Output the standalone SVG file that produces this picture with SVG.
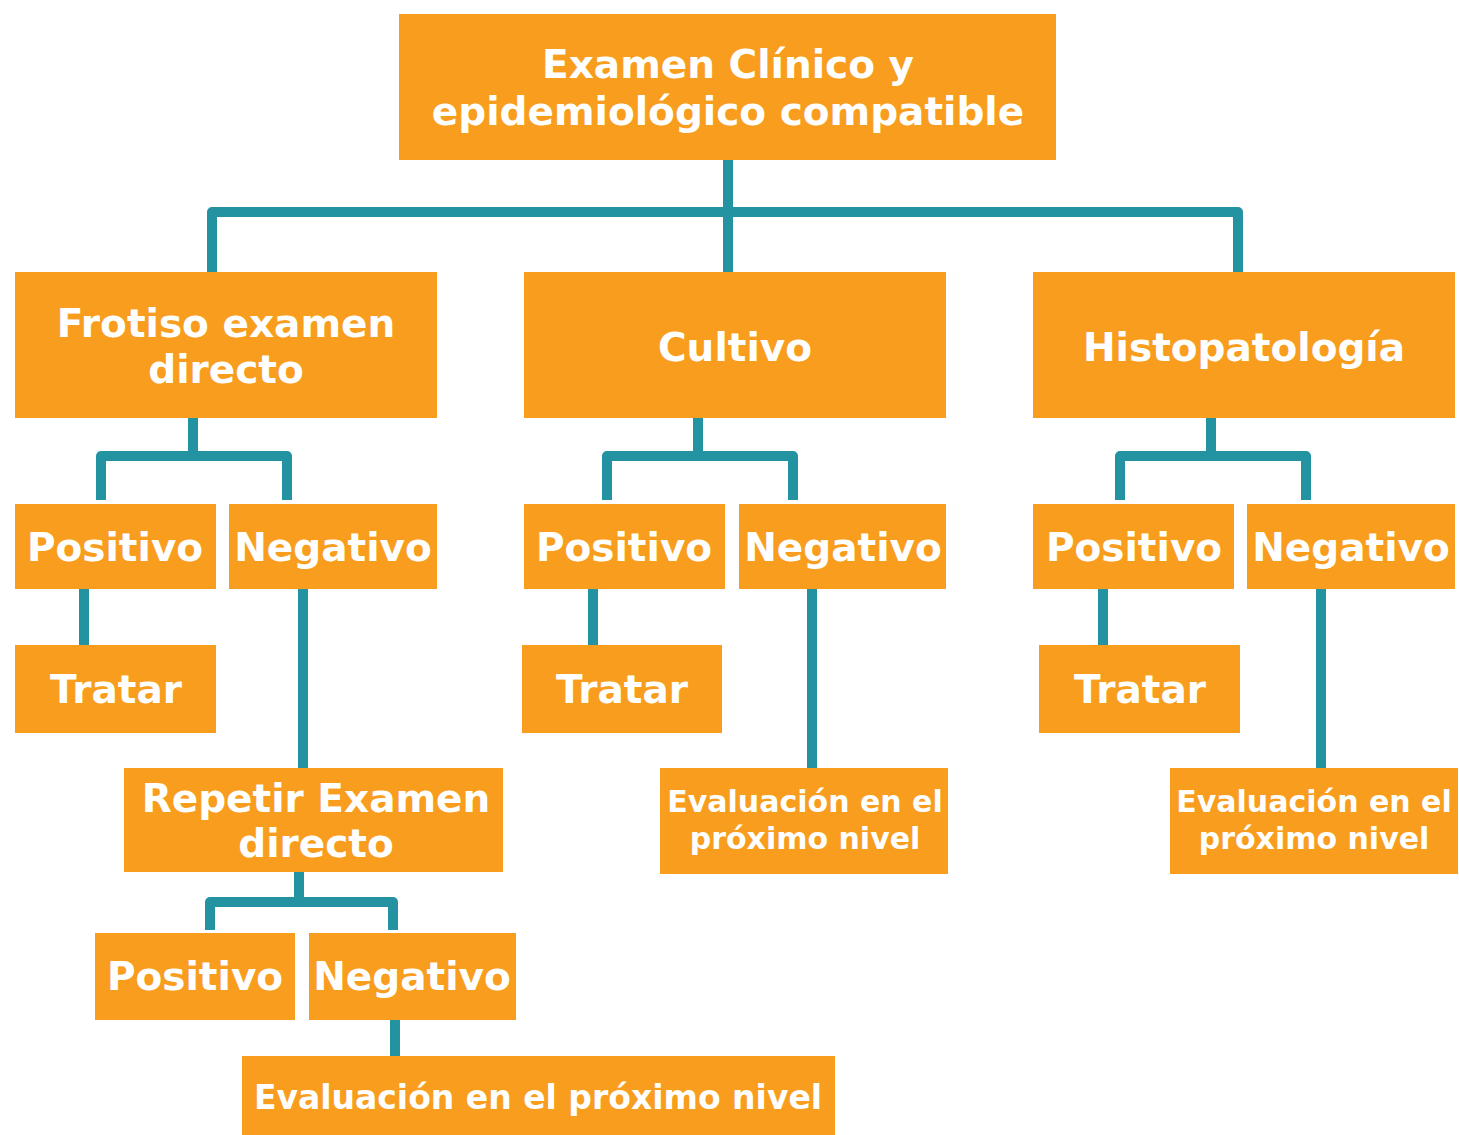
<svg xmlns="http://www.w3.org/2000/svg" width="1459" height="1135" viewBox="0 0 1459 1135">
<style>
.box{fill:#F99D1E}
.t{fill:#FFFFFF;font-family:"DejaVu Sans","Verdana",sans-serif;font-weight:bold;text-anchor:middle}
.l{font-size:39px}
.s{font-size:30px}
.m{font-size:33px}
.c{fill:none;stroke:#2393A2;stroke-width:10;stroke-linejoin:round;stroke-linecap:butt}
</style>
<rect width="1459" height="1135" fill="#FFFFFF"/>
<g id="connectors">
<path class="c" d="M728 160V272"/>
<path class="c" d="M212 272V212H1238V272"/>
<path class="c" d="M193 418V456"/>
<path class="c" d="M101 500V456H287V500"/>
<path class="c" d="M84 589V645"/>
<path class="c" d="M303 589V768"/>
<path class="c" d="M698 418V456"/>
<path class="c" d="M607 500V456H793V500"/>
<path class="c" d="M593 589V645"/>
<path class="c" d="M812 589V768"/>
<path class="c" d="M1211 418V456"/>
<path class="c" d="M1120 500V456H1306V500"/>
<path class="c" d="M1103 589V645"/>
<path class="c" d="M1321 589V768"/>
<path class="c" d="M299 872V902"/>
<path class="c" d="M210 930V902H393V930"/>
<path class="c" d="M395 1020V1056"/>
</g>
<g id="n-root"><rect class="box" x="399" y="14" width="657" height="146"/><text class="t l" x="728" y="78">Examen Clínico y</text><text class="t l" x="728" y="125">epidemiológico compatible</text></g>
<g id="n-frotiso"><rect class="box" x="15" y="272" width="422" height="146"/><text class="t l" x="226" y="337">Frotiso examen</text><text class="t l" x="226" y="383">directo</text></g>
<g id="n-cultivo"><rect class="box" x="524" y="272" width="422" height="146"/><text class="t l" x="735" y="361">Cultivo</text></g>
<g id="n-histo"><rect class="box" x="1033" y="272" width="422" height="146"/><text class="t l" x="1244" y="361">Histopatología</text></g>
<g id="n-f-pos"><rect class="box" x="15" y="504" width="201" height="85"/><text class="t l" x="115" y="561">Positivo</text></g>
<g id="n-f-neg"><rect class="box" x="229" y="504" width="208" height="85"/><text class="t l" x="333" y="561">Negativo</text></g>
<g id="n-c-pos"><rect class="box" x="524" y="504" width="201" height="85"/><text class="t l" x="624" y="561">Positivo</text></g>
<g id="n-c-neg"><rect class="box" x="739" y="504" width="207" height="85"/><text class="t l" x="843" y="561">Negativo</text></g>
<g id="n-h-pos"><rect class="box" x="1033" y="504" width="201" height="85"/><text class="t l" x="1134" y="561">Positivo</text></g>
<g id="n-h-neg"><rect class="box" x="1247" y="504" width="208" height="85"/><text class="t l" x="1351" y="561">Negativo</text></g>
<g id="n-f-tratar"><rect class="box" x="15" y="645" width="201" height="88"/><text class="t l" x="116" y="703">Tratar</text></g>
<g id="n-c-tratar"><rect class="box" x="522" y="645" width="200" height="88"/><text class="t l" x="622" y="703">Tratar</text></g>
<g id="n-h-tratar"><rect class="box" x="1039" y="645" width="201" height="88"/><text class="t l" x="1140" y="703">Tratar</text></g>
<g id="n-repetir"><rect class="box" x="124" y="768" width="379" height="104"/><text class="t l" x="316" y="812">Repetir Examen</text><text class="t l" x="316" y="857">directo</text></g>
<g id="n-c-eval"><rect class="box" x="660" y="768" width="288" height="106"/><text class="t s" x="805" y="812">Evaluación en el</text><text class="t s" x="805" y="849">próximo nivel</text></g>
<g id="n-h-eval"><rect class="box" x="1170" y="768" width="288" height="106"/><text class="t s" x="1314" y="812">Evaluación en el</text><text class="t s" x="1314" y="849">próximo nivel</text></g>
<g id="n-r-pos"><rect class="box" x="95" y="933" width="200" height="87"/><text class="t l" x="195" y="990">Positivo</text></g>
<g id="n-r-neg"><rect class="box" x="309" y="933" width="207" height="87"/><text class="t l" x="412" y="990">Negativo</text></g>
<g id="n-final"><rect class="box" x="242" y="1056" width="593" height="79"/><text class="t m" x="538" y="1109">Evaluación en el próximo nivel</text></g>
</svg>
